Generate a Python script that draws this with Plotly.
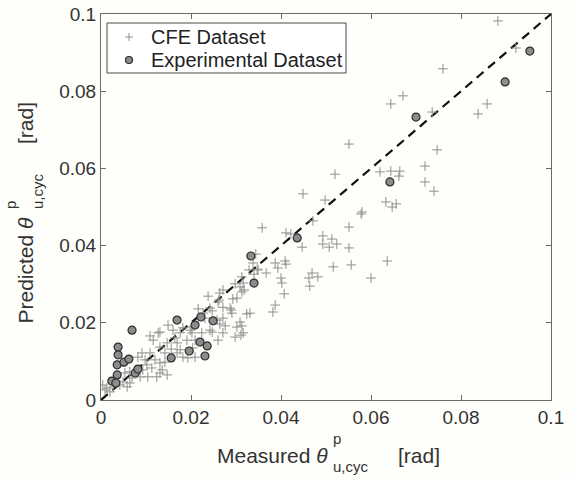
import plotly.graph_objects as go

# ---------------- data ----------------
cfe_x = [0.0882, 0.0922, 0.0760, 0.0671, 0.0644, 0.0736, 0.0858, 0.0838, 0.0551, 0.0747,
         0.0720, 0.0620, 0.0644, 0.0664, 0.0662, 0.0720, 0.0740, 0.0633, 0.0647, 0.0656,
         0.0520, 0.0449, 0.0498, 0.0580, 0.0578, 0.0471, 0.0551, 0.0358, 0.0411, 0.0422,
         0.0493, 0.0513, 0.0493, 0.0507, 0.0524, 0.0447, 0.0551, 0.0344, 0.0387, 0.0393,
         0.0409, 0.0411, 0.0338, 0.0347, 0.0367, 0.0516, 0.0556, 0.0636, 0.0400, 0.0402,
         0.0462, 0.0482, 0.0469, 0.0464, 0.0407, 0.0600, 0.0387, 0.0382, 0.0331, 0.0329,
         0.0349, 0.0340, 0.0313, 0.0316, 0.0298, 0.0309, 0.0318, 0.0302, 0.0293, 0.0271,
         0.0238, 0.0262, 0.0242, 0.0216, 0.0287, 0.0264, 0.0260, 0.0313, 0.0289, 0.0291,
         0.0324, 0.0247, 0.0231, 0.0271, 0.0258, 0.0264, 0.0276, 0.0309, 0.0302, 0.0313,
         0.0311, 0.0298, 0.0316, 0.0224, 0.0242, 0.0247, 0.0271, 0.0260, 0.0202, 0.0198,
         0.0202, 0.0182, 0.0176, 0.0160, 0.0164, 0.0169, 0.0191, 0.0209, 0.0204, 0.0193,
         0.0209, 0.0176, 0.0109, 0.0127, 0.0116, 0.0149, 0.0131, 0.0147, 0.0156, 0.0169,
         0.0142, 0.0109, 0.0091, 0.0082, 0.0098, 0.0120, 0.0142, 0.0131, 0.0102, 0.0113,
         0.0136, 0.0093, 0.0131, 0.0147, 0.0124, 0.0104, 0.0087, 0.0069, 0.0064, 0.0053,
         0.0049, 0.0064, 0.0058, 0.0042, 0.0027, 0.0013, 0.0009, 0.0020, 0.0004, 0.0182,
         0.0271, 0.0227, 0.0131]
cfe_y = [0.0982, 0.0912, 0.0858, 0.0788, 0.0767, 0.0746, 0.0767, 0.0741, 0.0663, 0.0648,
         0.0606, 0.0591, 0.0593, 0.0593, 0.0580, 0.0565, 0.0541, 0.0513, 0.0500, 0.0508,
         0.0585, 0.0534, 0.0518, 0.0487, 0.0482, 0.0464, 0.0448, 0.0446, 0.0433, 0.0430,
         0.0425, 0.0417, 0.0404, 0.0396, 0.0404, 0.0396, 0.0394, 0.0378, 0.0355, 0.0342,
         0.0360, 0.0352, 0.0355, 0.0339, 0.0329, 0.0345, 0.0350, 0.0360, 0.0316, 0.0303,
         0.0316, 0.0319, 0.0329, 0.0295, 0.0275, 0.0316, 0.0246, 0.0228, 0.0225, 0.0337,
         0.0337, 0.0326, 0.0319, 0.0303, 0.0301, 0.0293, 0.0285, 0.0264, 0.0262, 0.0285,
         0.0269, 0.0259, 0.0238, 0.0236, 0.0238, 0.0277, 0.0254, 0.0280, 0.0233, 0.0225,
         0.0223, 0.0231, 0.0212, 0.0212, 0.0207, 0.0197, 0.0192, 0.0202, 0.0189, 0.0192,
         0.0168, 0.0163, 0.0174, 0.0174, 0.0181, 0.0176, 0.0174, 0.0155, 0.0189, 0.0181,
         0.0174, 0.0187, 0.0174, 0.0181, 0.0161, 0.0148, 0.0155, 0.0155, 0.0135, 0.0109,
         0.0111, 0.0130, 0.0166, 0.0174, 0.0155, 0.0194, 0.0137, 0.0148, 0.0132, 0.0122,
         0.0122, 0.0122, 0.0122, 0.0111, 0.0104, 0.0104, 0.0098, 0.0096, 0.0091, 0.0083,
         0.0078, 0.0078, 0.0070, 0.0065, 0.0060, 0.0060, 0.0060, 0.0057, 0.0073, 0.0070,
         0.0047, 0.0044, 0.0034, 0.0039, 0.0034, 0.0031, 0.0026, 0.0021, 0.0039, 0.0111,
         0.0240, 0.0225, 0.0176]

exp_x = [0.0953, 0.0898, 0.0700, 0.0642, 0.0436, 0.0333, 0.0340, 0.0169, 0.0209, 0.0222,
         0.0249, 0.0220, 0.0236, 0.0196, 0.0231, 0.0156, 0.0069, 0.0038, 0.0038, 0.0036,
         0.0051, 0.0062, 0.0076, 0.0082, 0.0036, 0.0024, 0.0033]
exp_y = [0.0904, 0.0824, 0.0733, 0.0565, 0.0420, 0.0373, 0.0303, 0.0207, 0.0194, 0.0215,
         0.0205, 0.0150, 0.0140, 0.0127, 0.0114, 0.0109, 0.0181, 0.0137, 0.0117, 0.0091,
         0.0098, 0.0106, 0.0070, 0.0080, 0.0065, 0.0049, 0.0044]

line_x = [0, 0.1]
line_y = [0, 0.1]

tick_vals = [0, 0.02, 0.04, 0.06, 0.08, 0.1]
tick_text = ["0", "0.02", "0.04", "0.06", "0.08", "0.1"]

series_names = ["CFE Dataset", "Experimental Dataset"]

# ---------------- styling ----------------
FONT = "Liberation Sans, Arial, sans-serif"
TXT = "#333333"
BG = "#fefefb"
CFE_COL = "#8f8f8f"
EXP_FILL = "#8c8c8c"
EXP_EDGE = "#2e2e2e"

fig = go.Figure()
fig.add_trace(go.Scatter(
    x=line_x, y=line_y, mode="lines", showlegend=False,
    line=dict(color="#111111", width=2.2, dash="9px,6px"), hoverinfo="skip"))
fig.add_trace(go.Scatter(
    x=cfe_x, y=cfe_y, mode="markers", name=series_names[0], showlegend=False,
    marker=dict(symbol="cross-thin", size=7, color=CFE_COL,
                line=dict(color=CFE_COL, width=1))))
fig.add_trace(go.Scatter(
    x=exp_x, y=exp_y, mode="markers", name=series_names[1], showlegend=False,
    marker=dict(symbol="circle", size=8, color=EXP_FILL,
                line=dict(color=EXP_EDGE, width=1.2))))

axis_common = dict(
    range=[0, 0.1], tickvals=tick_vals, ticktext=tick_text, automargin=False,
    showgrid=False, zeroline=False, showline=True, linecolor="#6a6a6a", linewidth=1,
    mirror="ticks", ticks="inside", ticklen=5, tickcolor="#6a6a6a",
    tickfont=dict(family=FONT, size=19, color=TXT),
)
fig.update_xaxes(**axis_common)
fig.update_yaxes(**axis_common)

L, R, T, B = 101, 18, 14, 79
W, H = 569, 479
pw, ph = W - L - R, H - T - B

def px(xp):
    return (xp - L) / pw

def py(yp):
    return (H - B - yp) / ph

ann = []
big, small = 21, 15
# x-axis title pieces
ann += [
    dict(text="Measured <i>θ</i>", x=px(330), y=py(455), xanchor="right", yanchor="middle",
         font=dict(size=big)),
    dict(text="p", x=px(331), y=py(439), xanchor="left", yanchor="middle", font=dict(size=small)),
    dict(text="u,cyc", x=px(331), y=py(466), xanchor="left", yanchor="middle", font=dict(size=small)),
    dict(text="[rad]", x=px(396), y=py(455), xanchor="left", yanchor="middle", font=dict(size=big)),
]
# y-axis title pieces (rotated)
ann += [
    dict(text="Predicted <i>θ</i>", x=px(25), y=py(326), xanchor="center", yanchor="bottom",
         textangle=-90, font=dict(size=big)),
    dict(text="p", x=px(10), y=py(211), xanchor="center", yanchor="bottom", textangle=-90,
         font=dict(size=small)),
    dict(text="u,cyc", x=px(37), y=py(211), xanchor="center", yanchor="bottom", textangle=-90,
         font=dict(size=small)),
    dict(text="[rad]", x=px(25), y=py(146), xanchor="center", yanchor="bottom", textangle=-90,
         font=dict(size=big)),
]
# legend texts
ann += [
    dict(text=series_names[0], x=px(149), y=py(37), xanchor="left", yanchor="middle",
         font=dict(size=20, color="#222222")),
    dict(text=series_names[1], x=px(149), y=py(60), xanchor="left", yanchor="middle",
         font=dict(size=20, color="#222222")),
]
for a in ann:
    a.update(xref="paper", yref="paper", showarrow=False)
    a["font"].setdefault("color", TXT)
    a["font"].update(family=FONT)

# legend frame and keys (layout decorations)
shapes = [
    dict(type="rect", x0=px(107), x1=px(346), y0=py(73), y1=py(23),
         fillcolor="#ffffff", line=dict(color="#4a4a4a", width=1), layer="above"),
    dict(type="line", x0=px(125), x1=px(133), y0=py(37), y1=py(37),
         line=dict(color=CFE_COL, width=1)),
    dict(type="line", x0=px(129), x1=px(129), y0=py(33), y1=py(41),
         line=dict(color=CFE_COL, width=1)),
    dict(type="circle", x0=px(125.5), x1=px(132.5), y0=py(63.5), y1=py(56.5),
         fillcolor=EXP_FILL, line=dict(color=EXP_EDGE, width=1.2)),
]
for s in shapes:
    s.update(xref="paper", yref="paper")

fig.update_layout(
    width=W, height=H, margin=dict(l=L, r=R, t=T, b=B, pad=0, autoexpand=False),
    paper_bgcolor=BG, plot_bgcolor=BG,
    annotations=ann, shapes=shapes, showlegend=False,
    font=dict(family=FONT, color=TXT),
)

fig.write_html("out.html")
